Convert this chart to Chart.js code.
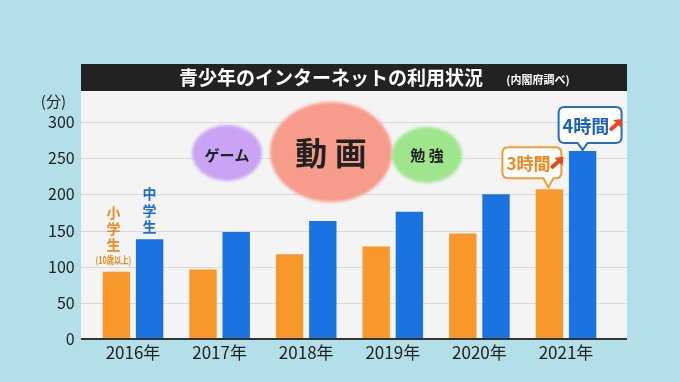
<!DOCTYPE html>
<html><head><meta charset="utf-8">
<script src="https://cdn.jsdelivr.net/npm/chart.js@4/dist/chart.umd.min.js"></script>
<style>html,body{margin:0;padding:0;background:#b3dfe9;overflow:hidden}#wrap{width:680px;height:382px}</style>
</head><body><div id="wrap"><canvas id="c" width="680" height="382"></canvas></div>
<script>
const years = ['2016年', '2017年', '2018年', '2019年', '2020年', '2021年'];
const elementaryMinutes = [93, 96, 117, 128, 146, 207];
const juniorHighMinutes = [138, 148, 163, 176, 200, 260];
const seriesNames = ['小学生', '中学生'];
const yMax = 300;
const yStep = 50;
const calloutTexts = ['3時間', '4時間'];

const FONT = '"Noto Sans CJK JP","Noto Sans",sans-serif';
const ORANGE = '#f8972a';
const BLUE = '#1a73e1';

function roundRectPath(ctx, l, t, r, b, rad, tipX, tipY, tipHalf) {
  ctx.beginPath();
  ctx.moveTo(l + rad, t);
  ctx.lineTo(r - rad, t);
  ctx.quadraticCurveTo(r, t, r, t + rad);
  ctx.lineTo(r, b - rad);
  ctx.quadraticCurveTo(r, b, r - rad, b);
  ctx.lineTo(tipX + tipHalf, b);
  ctx.lineTo(tipX, tipY);
  ctx.lineTo(tipX - tipHalf, b);
  ctx.lineTo(l + rad, b);
  ctx.quadraticCurveTo(l, b, l, b - rad);
  ctx.lineTo(l, t + rad);
  ctx.quadraticCurveTo(l, t, l + rad, t);
  ctx.closePath();
}

function drawArrow(ctx, x0, y0, x1, y1) {
  ctx.save();
  ctx.fillStyle = '#e8471c';
  ctx.strokeStyle = '#e8471c';
  ctx.lineWidth = 4;
  ctx.lineCap = 'round';
  ctx.beginPath();
  ctx.moveTo(x0 + 1, y1 - 1);
  ctx.lineTo(x1 - 4, y0 + 4);
  ctx.stroke();
  ctx.beginPath();
  ctx.moveTo(x1, y0);
  ctx.lineTo(x1 - 9, y0 + 1);
  ctx.lineTo(x1 - 1, y0 + 9);
  ctx.closePath();
  ctx.fill();
  ctx.restore();
}

function drawCallout(ctx, o) {
  ctx.save();
  roundRectPath(ctx, o.l, o.t, o.r, o.b, 6, o.tipX, o.tipY, 5);
  ctx.fillStyle = '#ffffff';
  ctx.fill();
  ctx.lineWidth = 2;
  ctx.strokeStyle = o.color;
  ctx.stroke();
  ctx.fillStyle = o.textColor;
  ctx.font = 'bold ' + o.size + 'px ' + FONT;
  ctx.textBaseline = 'middle';
  ctx.textAlign = 'left';
  ctx.fillText(o.text, o.l + 4, (o.t + o.b) / 2 + 1);
  const w = ctx.measureText(o.text).width;
  const ax = o.l + 4 + w + 1;
  const cy = (o.t + o.b) / 2;
  drawArrow(ctx, ax, cy - 6, ax + 12, cy + 5);
  ctx.restore();
}

function bubble(ctx, cx, cy, rx, ry, color) {
  ctx.save();
  ctx.filter = 'blur(1.5px)';
  ctx.fillStyle = color;
  ctx.beginPath();
  ctx.ellipse(cx, cy, rx, ry, 0, 0, Math.PI * 2);
  ctx.fill();
  ctx.restore();
}

const deco = {
  id: 'deco',
  beforeDraw(chart) {
    const ctx = chart.ctx;
    const ys = chart.scales.y;
    ctx.save();
    ctx.fillStyle = '#b3dfe9';
    ctx.fillRect(0, 0, chart.width, chart.height);
    ctx.fillStyle = '#f4f4f4';
    ctx.fillRect(81, 91, 546, ys.getPixelForValue(0) - 91);
    ctx.strokeStyle = '#d9d9d9';
    ctx.lineWidth = 1;
    ys.ticks.forEach(t => {
      if (t.value === 0) return;
      const y = Math.round(ys.getPixelForValue(t.value)) + 0.5;
      ctx.beginPath();
      ctx.moveTo(81, y);
      ctx.lineTo(627, y);
      ctx.stroke();
    });
    ctx.fillStyle = '#222222';
    ctx.fillRect(81, 64, 546, 27);
    ctx.fillStyle = '#ffffff';
    ctx.textBaseline = 'middle';
    ctx.textAlign = 'center';
    ctx.font = 'bold 19px ' + FONT;
    ctx.fillText('青少年のインターネットの利用状況', 331, 78);
    ctx.font = 'bold 11px ' + FONT;
    ctx.fillText('(内閣府調べ)', 538, 80);
    ctx.fillStyle = '#222222';
    ctx.font = '15px ' + FONT;
    ctx.textAlign = 'right';
    ctx.fillText('(分)', 66, 101);
    ctx.restore();
  },
  afterDatasetsDraw(chart) {
    const ctx = chart.ctx;
    const ys = chart.scales.y;
    const y0 = ys.getPixelForValue(0);
    ctx.save();
    ctx.strokeStyle = '#333333';
    ctx.lineWidth = 2;
    ctx.beginPath();
    ctx.moveTo(81, y0);
    ctx.lineTo(627, y0);
    ctx.stroke();

    bubble(ctx, 227, 153, 35, 28, '#c9a4f4');
    bubble(ctx, 331, 152, 61, 50, '#f79b8a');
    bubble(ctx, 427, 155, 35, 28, '#9ee58c');
    ctx.fillStyle = '#222222';
    ctx.textAlign = 'center';
    ctx.textBaseline = 'middle';
    ctx.font = 'bold 15px ' + FONT;
    ctx.fillText('ゲーム', 227, 155);
    ctx.fillText('勉 強', 427, 155);
    ctx.font = 'bold 32px ' + FONT;
    ctx.fillText('動 画', 331, 153);

    const m0 = chart.getDatasetMeta(0).data[0];
    const m1 = chart.getDatasetMeta(1).data[0];
    ctx.font = 'bold 14px ' + FONT;
    ctx.fillStyle = '#f08a1c';
    seriesNames[0].split('').forEach((ch, i) => ctx.fillText(ch, m0.x - 3, m0.y - 59 + i * 16));
    ctx.save();
    ctx.translate(m0.x - 3, m0.y - 12);
    ctx.scale(0.72, 1);
    ctx.font = 'bold 10px ' + FONT;
    ctx.fillText('(10歳以上)', 0, 0);
    ctx.restore();
    ctx.fillStyle = '#1c6fd6';
    seriesNames[1].split('').forEach((ch, i) => ctx.fillText(ch, m1.x, m1.y - 45 + i * 16.5));

    const n = years.length - 1;
    const b0 = chart.getDatasetMeta(0).data[n];
    const b1 = chart.getDatasetMeta(1).data[n];
    drawCallout(ctx, {l: b0.x - 47, r: b0.x + 12, t: b0.y - 42, b: b0.y - 11, tipX: b0.x - 1, tipY: b0.y - 2,
      color: '#f39a33', textColor: '#ee8619', text: calloutTexts[0], size: 17});
    drawCallout(ctx, {l: b1.x - 24, r: b1.x + 39, t: b1.y - 44, b: b1.y - 8, tipX: b1.x, tipY: b1.y - 1,
      color: '#2a6cc4', textColor: '#1c62c0', text: calloutTexts[1], size: 18});
    ctx.restore();
  }
};

new Chart(document.getElementById('c'), {
  type: 'bar',
  data: {
    labels: years,
    datasets: [
      {label: seriesNames[0], data: elementaryMinutes, backgroundColor: ORANGE, borderWidth: 0,
       barPercentage: 0.825, categoryPercentage: 0.767},
      {label: seriesNames[1], data: juniorHighMinutes, backgroundColor: BLUE, borderWidth: 0,
       barPercentage: 0.825, categoryPercentage: 0.767}
    ]
  },
  options: {
    responsive: false,
    animation: false,
    devicePixelRatio: 1,
    layout: {padding: {left: 0, right: 70.7, top: 122, bottom: 0}},
    plugins: {legend: {display: false}, tooltip: {enabled: false}, title: {display: false}},
    scales: {
      x: {
        grid: {display: false, drawTicks: false},
        border: {display: false},
        ticks: {color: '#222222', font: {family: FONT, size: 17}, padding: 3, maxRotation: 0},
        afterFit(s) { s.height = 43; }
      },
      y: {
        min: 0, max: yMax,
        grid: {display: false, drawTicks: false},
        border: {display: false},
        ticks: {stepSize: yStep, color: '#222222', font: {family: FONT, size: 16}, padding: 15},
        afterFit(s) { s.width = 89.7; }
      }
    }
  },
  plugins: [deco]
});
</script>
</body></html>
